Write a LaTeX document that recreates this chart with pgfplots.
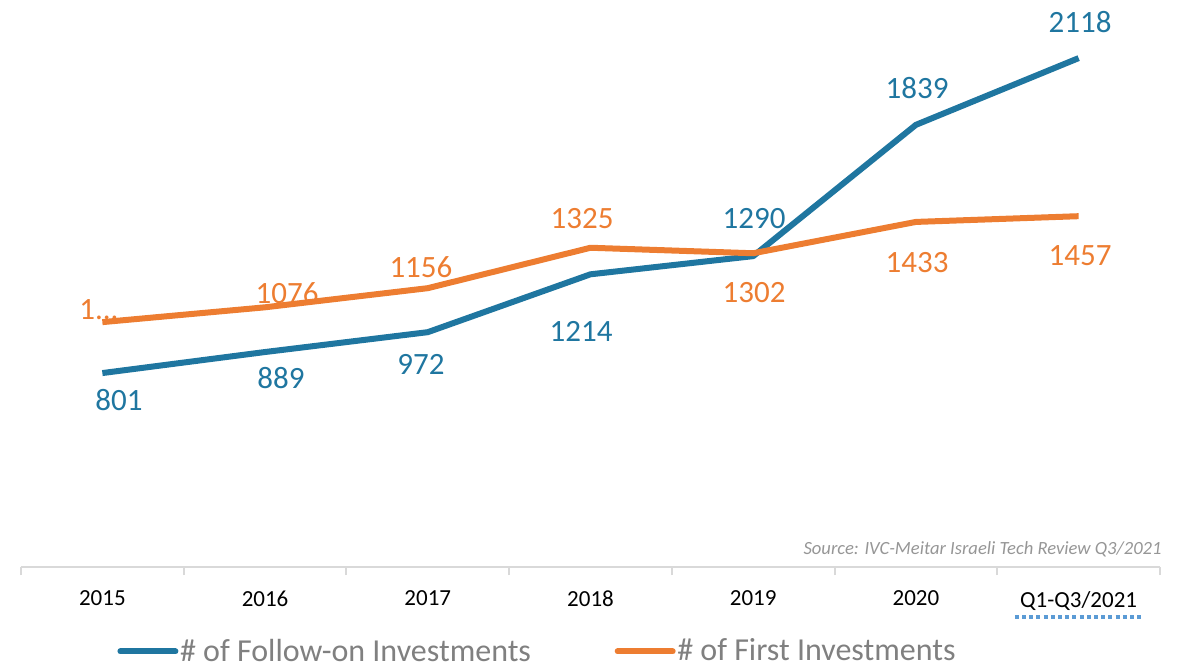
\documentclass[border=0pt]{standalone}
\usepackage{pgfplots}
\pgfplotsset{compat=1.18}
\usepackage{fontspec}
\setmainfont{Carlito}
\definecolor{fblue}{RGB}{31,118,160}
\definecolor{forange}{RGB}{237,125,49}
\definecolor{axgray}{RGB}{217,217,217}
\definecolor{leggray}{RGB}{128,128,128}
\definecolor{srcgray}{RGB}{150,150,150}
\definecolor{spell}{RGB}{91,155,213}
\begin{document}
\begin{tikzpicture}
\begin{axis}[
  scale only axis,
  width=569.5pt, height=283.5pt,
  xmin=-0.5, xmax=6.5, ymin=-10, ymax=2361,
  axis x line=bottom, axis y line=none,
  axis line style={axgray, line width=1pt, -},
  xtick={0,1,2,3,4,5,6},
  xticklabels={2015,2016,2017,2018,2019,2020,Q1-Q3/2021},
  major tick length=0pt,
  xticklabel style={font=\fontsize{11.5}{13}\selectfont, text=black, yshift=-8.5pt},
  extra x ticks={-0.5,0.5,1.5,2.5,3.5,4.5,5.5,6.5},
  extra x tick labels={},
  extra x tick style={major tick length=4pt, tick align=outside, tick style={axgray, line width=1pt}},
  clip=false,
  legend columns=2,
  legend style={draw=none, fill=none, at={(0.0843,-0.149)}, anchor=west,
    font=\fontsize{16}{18}\selectfont, text=leggray, inner sep=0pt,
    nodes={inner xsep=0.8pt, inner ysep=0pt},
    /tikz/every even column/.append style={column sep=41pt}},
  legend image code/.code={\draw[#1, line width=3pt, line cap=round] (0pt,0pt) -- (27.5pt,0pt);},
]
\addplot[fblue, line width=3pt, line join=round] coordinates {
 (0,801) (1,889) (2,972) (3,1214) (4,1290) (5,1839) (6,2118)};
\addlegendentry{\# of Follow-on Investments}
\addplot[forange, line width=3pt, line join=round] coordinates {
 (0,1014) (1,1076) (2,1156) (3,1325) (4,1302) (5,1433) (6,1457)};
\addlegendentry{\# of First Investments}

\begin{scope}[every node/.style={font=\fontsize{15.5}{17}\selectfont}]
\node[text=fblue] at (axis cs:0.102,688) {801};
\node[text=fblue] at (axis cs:1.098,780) {889};
\node[text=fblue] at (axis cs:1.958,835) {972};
\node[text=fblue] at (axis cs:2.942,977) {1214};
\node[text=fblue] at (axis cs:4.005,1449) {1290};
\node[text=fblue] at (axis cs:5.007,1993) {1839};
\node[text=fblue] at (axis cs:6.009,2269) {2118};
\node[text=forange] at (axis cs:-0.021,1065) {1...};
\node[text=forange] at (axis cs:1.135,1136) {1076};
\node[text=forange] at (axis cs:1.958,1244) {1156};
\node[text=forange] at (axis cs:2.948,1449) {1325};
\node[text=forange] at (axis cs:4.005,1136) {1302};
\node[text=forange] at (axis cs:5.007,1265) {1433};
\node[text=forange] at (axis cs:6.009,1290) {1457};
\end{scope}
\node[anchor=east, text=srcgray, font=\fontsize{9.3}{10}\selectfont\itshape, inner sep=0pt]
  at (rel axis cs:1,0) [xshift=1pt, yshift=9pt] {Source: IVC-Meitar Israeli Tech Review Q3/2021};
\draw[spell, line width=2pt, dash pattern=on 2pt off 1.6pt] (axis cs:5.7,0) ++(-7.5pt,-26pt) -- ++(63pt,0pt);
\end{axis}
\pgfresetboundingbox
\path[use as bounding box] (-10.5pt,-49.5pt) rectangle (582pt,283.5pt);
\end{tikzpicture}
\end{document}
